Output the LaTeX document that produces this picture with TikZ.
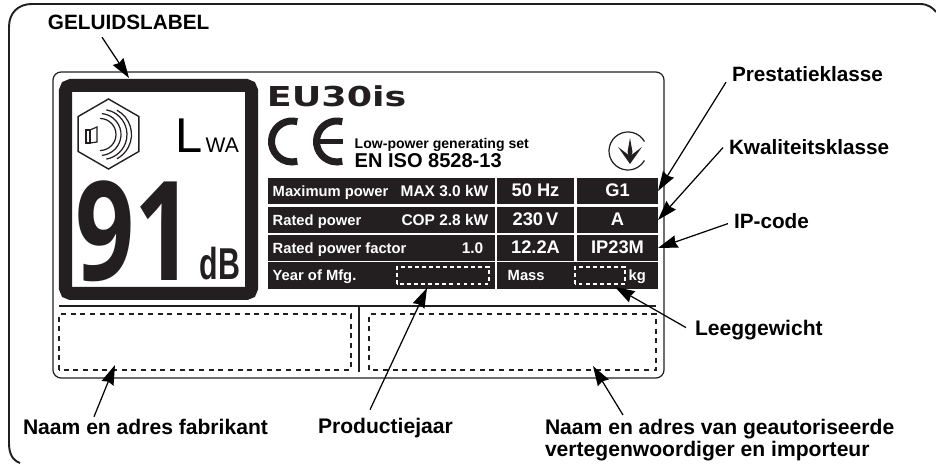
\documentclass[tikz,border=0pt]{standalone}
\usepackage{fontspec}
\setmainfont{Liberation Sans}
\newfontfamily\logofont{DejaVu Sans}
\newfontfamily\digitfont{Open Sans}
\usetikzlibrary{arrows.meta, shapes.geometric}
\definecolor{platedark}{HTML}{231F20}
\tikzset{
  callout/.style={draw=none, inner sep=0pt, outer sep=0pt, anchor=base west, align=left,
    font=\fontsize{5.9}{6}\selectfont\bfseries},
  calloutwide/.style={callout, font=\fontsize{6}{6.3}\selectfont\bfseries},
  pointer/.style={-{Stealth[length=5.6pt, width=3.6pt, inset=0.5pt]}, black, line width=0.35pt},
  cell/.style={fill=platedark, text=white, inner sep=0pt, outer sep=0pt, text height=3.4pt, text depth=0pt,
    minimum height=0.26cm, font=\fontsize{5.2}{6}\selectfont\bfseries},
  celltext/.style={text=white, inner sep=0pt, text height=3pt, text depth=0pt,
    font=\fontsize{4.2}{5}\selectfont\bfseries},
  cellvalue/.style={celltext, font=\fontsize{4.4}{5}\selectfont\bfseries},
  blankw/.style={draw=white, line width=0.35pt, dash pattern=on 1.1pt off 0.9pt},
  blankb/.style={draw=platedark, line width=0.4pt, dash pattern=on 1.45pt off 1.3pt},
  thinline/.style={draw=platedark, line width=0.35pt},
}
\begin{document}
\begin{tikzpicture}
  \useasboundingbox (0,0) rectangle (9.36,4.65);

  % Outer frame
  \draw[platedark, line width=0.55pt] (0.2,0.02) .. controls (0.12,0.05) and (0.09,0.12) .. (0.09,0.22)
    -- (0.09,4.38) .. controls (0.09,4.52) and (0.18,4.61) .. (0.32,4.61)
    -- (9.2,4.61) .. controls (9.28,4.61) and (9.33,4.57) .. (9.36,4.53);

  % Plate
  \draw[thinline, rounded corners=2.3pt] (0.53,0.87) rectangle (6.64,3.93);

  % Sound label
  \draw[platedark, line width=3.7pt, rounded corners=1.5pt] (0.655,1.715) rectangle (2.515,3.795);
  \node[regular polygon, regular polygon sides=6, regular polygon rotate=30, draw=platedark, line width=0.4pt,
    minimum size=0.7cm, inner sep=0pt] (hexlabel) at (1.085,3.31) {};
  \draw[thinline] (0.86,3.22) rectangle (0.90,3.35);
  \draw[thinline] (0.90,3.35) -- (0.97,3.38) -- (0.97,3.23) -- (0.90,3.22);
  \foreach \cx/\rad/\ang in {1.00/0.16/90, 1.00/0.21/85, 1.02/0.25/80, 1.04/0.275/62}
    \draw[thinline] (\cx,3.305) ++(\ang:\rad) arc (\ang:-\ang:\rad);
  \node[inner sep=0pt, anchor=base west, font=\fontsize{13.9}{14}\selectfont] (letterl) at (1.75,3.12) {L};
  \node[inner sep=0pt, anchor=base west, font=\fontsize{6}{6}\selectfont] (letterwa) at (2.05,3.12) {WA};
  \node[inner sep=0pt, anchor=base west, xscale=0.75, transform shape, text=platedark,
    font=\fontsize{39.3}{40}\digitfont\bfseries] (bignum) at (0.75,1.84) {91};
  \node[inner sep=0pt, anchor=base west, xscale=0.68, transform shape, text=platedark,
    font=\fontsize{12.7}{13}\selectfont\bfseries] (bigdb) at (1.99,1.85) {dB};

  % Model and marks
  \node[inner sep=0pt, anchor=base west, xscale=1.33, transform shape, text=platedark,
    font=\fontsize{7.8}{8}\logofont\bfseries] (model) at (2.66,3.58) {EU30is};
  \draw[platedark, line width=2pt] (2.92,3.235) ++(75:0.205) arc (75:285:0.205);
  \draw[platedark, line width=2pt] (3.37,3.235) ++(75:0.205) arc (75:285:0.205);
  \draw[platedark, line width=1.3pt] (3.16,3.235) -- (3.43,3.235);
  \node[inner sep=0pt, anchor=base west, font=\fontsize{4}{5}\selectfont\bfseries] (lowpower) at (3.54,3.16) {Low-power generating set};
  \node[inner sep=0pt, anchor=base west, font=\fontsize{5.7}{6}\selectfont\bfseries] (isonorm) at (3.54,2.97) {EN ISO 8528-13};
  \draw[thinline] (6.28,3.14) ++(30:0.19) arc (30:330:0.19);
  \fill[platedark] (6.30,3.27) -- (6.325,3.13) -- (6.30,3.05) -- (6.275,3.13) -- cycle;
  \fill[platedark] (6.18,3.18) -- (6.30,3.09) -- (6.42,3.18) -- (6.30,3.01) -- cycle;

  % Data table
  \node[cell, minimum width=2.27cm] (rowmax) at (3.815,2.74) {};
  \node[cell, minimum width=2.27cm] (rowcop) at (3.815,2.45) {};
  \node[cell, minimum width=2.27cm] (rowfac) at (3.815,2.17) {};
  \node[cell, minimum width=2.27cm, minimum height=0.27cm] (rowyear) at (3.815,1.895) {};
  \node[cell, minimum width=1.61cm, minimum height=0.27cm] (rowmass) at (5.775,1.895) {};
  \node[cell, minimum width=0.77cm] (cellhz) at (5.355,2.74) {50 Hz};
  \node[cell, minimum width=0.77cm] (cellv) at (5.355,2.45) {230\,V};
  \node[cell, minimum width=0.77cm] (cella) at (5.355,2.17) {12.2A};
  \node[cell, minimum width=0.81cm] (cellg) at (6.175,2.74) {G1};
  \node[cell, minimum width=0.81cm] (cellq) at (6.175,2.45) {A};
  \node[cell, minimum width=0.81cm] (cellip) at (6.175,2.17) {IP23M};

  \node[celltext, anchor=west] (txtmax) at (2.72,2.74) {Maximum power};
  \node[celltext, anchor=west] (txtcop) at (2.72,2.45) {Rated power};
  \node[celltext, anchor=west] (txtfac) at (2.72,2.17) {Rated power factor};
  \node[celltext, anchor=west] (txtyear) at (2.72,1.895) {Year of Mfg.};
  \node[cellvalue, anchor=east] (valmax) at (4.89,2.74) {MAX 3.0 kW};
  \node[cellvalue, anchor=east] (valcop) at (4.89,2.45) {COP 2.8 kW};
  \node[cellvalue, anchor=east] (valfac) at (4.84,2.17) {1.0};
  \node[celltext, anchor=west] (txtmass) at (5.07,1.895) {Mass};
  \node[celltext, anchor=west] (txtkg) at (6.28,1.895) {kg};
  \draw[blankw] (3.97,1.81) rectangle (4.89,1.98);
  \draw[blankw] (5.75,1.81) rectangle (6.25,1.98);

  % Lower fields
  \draw[thinline] (0.59,1.59) -- (6.56,1.59);
  \draw[thinline] (3.59,1.59) -- (3.59,0.93);
  \draw[blankb] (0.59,0.95) rectangle (3.51,1.51);
  \draw[blankb] (3.69,0.95) rectangle (6.56,1.51);

  % Callout texts
  \node[callout] (lblsound) at (0.48,4.35) {GELUIDSLABEL};
  \node[callout] (lblclass) at (7.32,3.83) {Prestatieklasse};
  \node[callout] (lblquality) at (7.29,3.10) {Kwaliteitsklasse};
  \node[callout] (lblip) at (7.34,2.36) {IP-code};
  \node[calloutwide] (lblmass) at (6.95,1.29) {Leeggewicht};
  \node[calloutwide] (lblmaker) at (0.23,0.31) {Naam en adres fabrikant};
  \node[calloutwide] (lblyear) at (3.18,0.32) {Productiejaar};
  \node[calloutwide, anchor=north west] (lblagent) at (5.45,0.46) {Naam en adres van geautoriseerde\\vertegenwoordiger en importeur};

  % Pointer ends
  \coordinate (tipsound) at (1.29,3.87);
  \coordinate (tipyear) at (4.27,1.77);
  \coordinate (tipmass) at (6.15,1.78);
  \coordinate (tipmaker) at (1.15,1.00);
  \coordinate (tipagent) at (5.93,0.99);

  % Pointers
  \draw[pointer] ([shift={(0.54,-0.07)}]lblsound.south west) -- (tipsound);
  \draw[pointer] ([shift={(-0.06,0)}]lblclass.south west) -- (cellg.east);
  \draw[pointer] ([shift={(-0.06,0)}]lblquality.west) -- (cellq.east);
  \draw[pointer] ([shift={(-0.06,-0.02)}]lblip.west) -- (cellip.east);
  \draw[pointer] ([shift={(-0.09,0.03)}]lblmass.west) -- (tipmass);
  \draw[pointer] ([shift={(0.71,0.02)}]lblmaker.north west) -- (tipmaker);
  \draw[pointer] ([shift={(0.52,0.08)}]lblyear.north west) -- (tipyear);
  \draw[pointer] ([shift={(0.78,0.04)}]lblagent.north west) -- (tipagent);
\end{tikzpicture}
\end{document}
